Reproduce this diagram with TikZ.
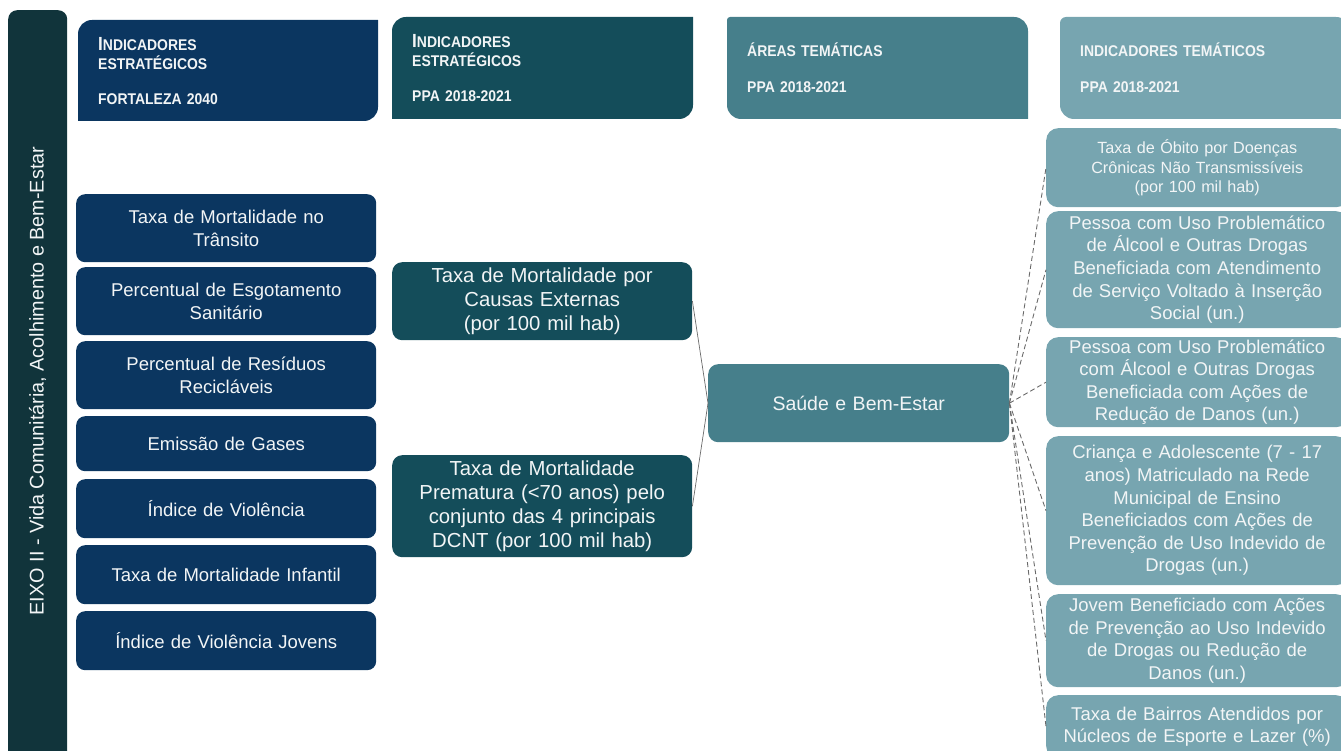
\documentclass[tikz,border=0pt]{standalone}
\usepackage{fontspec}
\setmainfont{Liberation Sans}
\newfontfamily\hdrfont{Liberation Sans}[FakeStretch=0.9]
\definecolor{barcol}{HTML}{11343B}
\definecolor{navy}{HTML}{0B3660}
\definecolor{dteal}{HTML}{144D5A}
\definecolor{mteal}{HTML}{467F8B}
\definecolor{lteal}{HTML}{77A5B0}
\definecolor{txt}{HTML}{F2F5F6}
\definecolor{linecol}{HTML}{6A6A6A}
\newcommand\fsz[2]{\fontsize{#1}{#2}\selectfont}
% header shape: colour, x1, y1, x2, y2, rTL, rTR, rBR, rBL
\newcommand\hshape[9]{%
  \fill[#1] ({#2},{#3+#6}) arc[start angle=180, end angle=270, radius=#6]
    -- ({#4-#7},{#3}) arc[start angle=270, end angle=360, radius=#7]
    -- ({#4},{#5-#8}) arc[start angle=0, end angle=90, radius=#8]
    -- ({#2+#9},{#5}) arc[start angle=90, end angle=180, radius=#9] -- cycle;}
\begin{document}
\begin{tikzpicture}[x=1pt,y=-1pt,
  box/.style={anchor=north west, inner sep=0pt, align=center, text=txt},
  lbox/.style={box, fill=navy, rounded corners=9pt, minimum width=300pt, text width=296pt, font=\fsz{18.5}{23}},
  mbox/.style={box, fill=dteal, rounded corners=10pt, minimum width=300pt, text width=296pt, font=\fsz{20.3}{24}},
  sbox/.style={box, fill=mteal, rounded corners=10pt, minimum width=301pt, text width=296pt, font=\fsz{19.5}{24}},
  rbox/.style={box, fill=lteal, rounded corners=12pt, minimum width=302pt, text width=298pt, font=\fsz{18.5}{22.6}},
  hdr/.style={anchor=north west, inner sep=0pt, minimum height=102pt,
     align=left, text=txt, font=\hdrfont\bfseries\fsz{15.5}{19}},
  solidline/.style={draw=linecol, line width=0.7pt},
  dashline/.style={draw=linecol, line width=0.9pt, dash pattern=on 5pt off 3pt}
]
\useasboundingbox (0,0) rectangle (1341,751);
\clip (0,0) rectangle (1341,751);

% left bar
\node[anchor=north west, fill=barcol, rounded corners=9pt, minimum width=59pt, minimum height=760pt, inner sep=0pt] (bar) at (8,10) {};
\node[rotate=90, text=txt, font=\fsz{19.8}{22}] (bartext) at (37.5,381) {EIXO II - Vida Comunitária, Acolhimento e Bem-Estar};

% headers
\hshape{navy}{78}{20}{378}{121}{14}{0.01}{14}{0.01}
\node[hdr, minimum width=300pt, minimum height=101pt, text width=300pt] (h1) at (78,20)
  {\hspace*{20pt}{\fsz{19}{19}I}NDICADORES\\\hspace*{20pt}ESTRATÉGICOS\\[16pt]\hspace*{20pt}FORTALEZA 2040};

\hshape{dteal}{392}{17}{693}{119}{14}{0.01}{14}{0.01}
\node[hdr, minimum width=301pt, text width=301pt] (h2) at (392,17)
  {\hspace*{20pt}{\fsz{19}{19}I}NDICADORES\\\hspace*{20pt}ESTRATÉGICOS\\[16pt]\hspace*{20pt}PPA 2018-2021};

\hshape{mteal}{727}{17}{1028}{119}{3}{14}{0.01}{14}
\node[hdr, minimum width=301pt, text width=301pt] (h3) at (727,17)
  {\hspace*{20pt}ÁREAS TEMÁTICAS\\[17pt]\hspace*{20pt}PPA 2018-2021};

\hshape{lteal}{1060}{17}{1350}{119}{6}{14}{0.01}{14}
\node[hdr, minimum width=290pt, text width=290pt] (h4) at (1060,17)
  {\hspace*{20pt}INDICADORES TEMÁTICOS\\[17pt]\hspace*{20pt}PPA 2018-2021};

% left column
\node[lbox, minimum height=68pt] (l1) at (76,194) {Taxa de Mortalidade no\\Trânsito};
\node[lbox, minimum height=68pt] (l2) at (76,267) {Percentual de Esgotamento\\Sanitário};
\node[lbox, minimum height=68pt] (l3) at (76,341) {Percentual de Resíduos\\Recicláveis};
\node[lbox, minimum height=55pt] (l4) at (76,416) {Emissão de Gases};
\node[lbox, minimum height=59pt] (l5) at (76,479) {Índice de Violência};
\node[lbox, minimum height=59pt] (l6) at (76,545) {Taxa de Mortalidade Infantil};
\node[lbox, minimum height=59pt] (l7) at (76,611) {Índice de Violência Jovens};

% middle column
\node[mbox, minimum height=78pt] (m1) at (392,262) {Taxa de Mortalidade por\\Causas Externas\\(por 100 mil hab)};
\node[mbox, minimum height=102pt] (m2) at (392,455) {Taxa de Mortalidade\\Prematura (<70 anos) pelo\\conjunto das 4 principais\\DCNT (por 100 mil hab)};

% thematic area
\node[sbox, minimum height=78pt] (s) at (708,364) {Saúde e Bem-Estar};

% right column
\node[rbox, minimum height=79pt, font=\fsz{16.2}{19.5}] (r1) at (1046,128) {Taxa de Óbito por Doenças\\Crônicas Não Transmissíveis\\(por 100 mil hab)};
\node[rbox, minimum height=117pt] (r2) at (1046,211) {Pessoa com Uso Problemático\\de Álcool e Outras Drogas\\Beneficiada com Atendimento\\de Serviço Voltado à Inserção\\Social (un.)};
\node[rbox, minimum height=90pt] (r3) at (1046,337) {Pessoa com Uso Problemático\\com Álcool e Outras Drogas\\Beneficiada com Ações de\\Redução de Danos (un.)};
\node[rbox, minimum height=149pt] (r4) at (1046,436) {Criança e Adolescente (7 - 17\\anos) Matriculado na Rede\\Municipal de Ensino\\Beneficiados com Ações de\\Prevenção de Uso Indevido de\\Drogas (un.)};
\node[rbox, minimum height=93pt] (r5) at (1046,594) {Jovem Beneficiado com Ações\\de Prevenção ao Uso Indevido\\de Drogas ou Redução de\\Danos (un.)};
\node[rbox, minimum height=63pt] (r6) at (1046,695) {Taxa de Bairros Atendidos por\\Núcleos de Esporte e Lazer (\%)};

% connectors
\draw[solidline] (m1.east) -- (s.west);
\draw[solidline] (m2.east) -- (s.west);
\foreach \r in {r1,r2,r3,r4,r5,r6}
  \draw[dashline] (s.east) -- (\r.west);
\end{tikzpicture}
\end{document}
